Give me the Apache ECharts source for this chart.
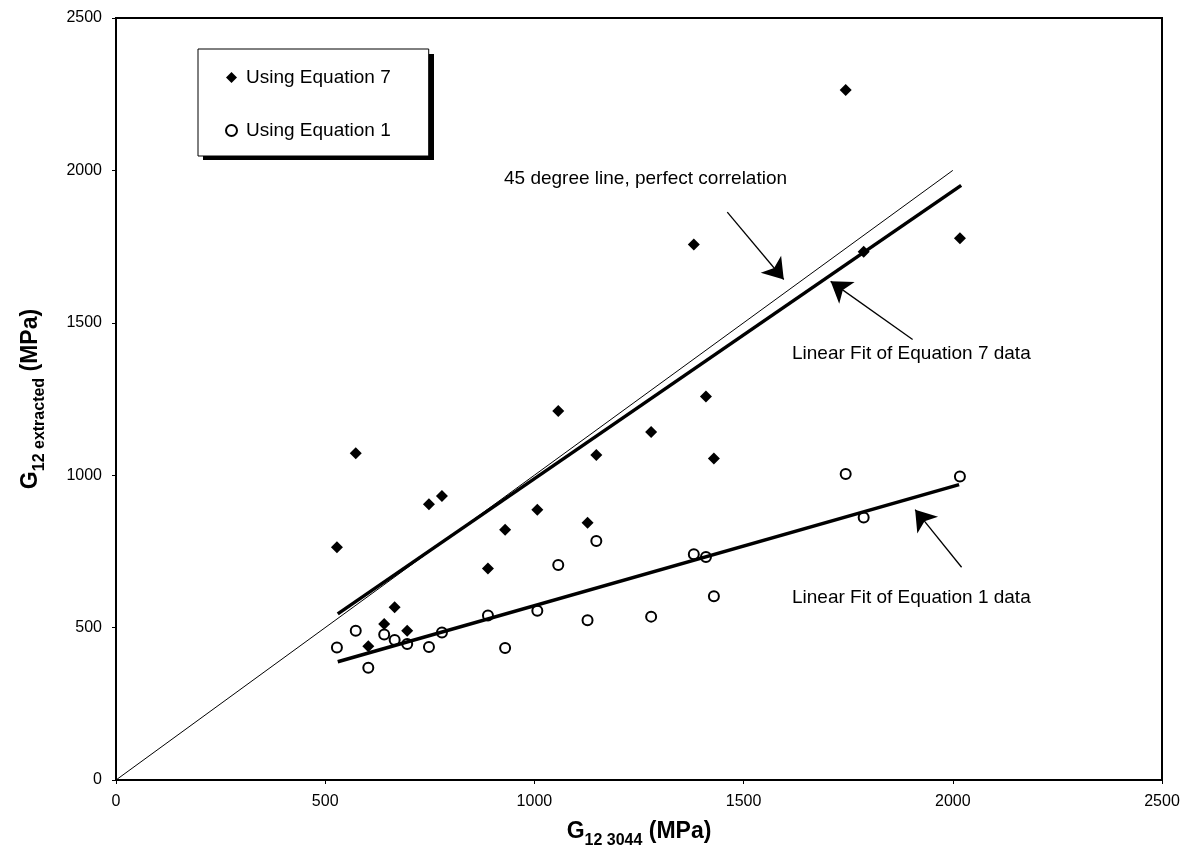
<!DOCTYPE html>
<html>
<head>
<meta charset="utf-8">
<script src="https://cdn.jsdelivr.net/npm/echarts@6/dist/echarts.min.js"></script>
<style>
  html, body { margin: 0; padding: 0; background: #fff; }
  #chart { width: 1187px; height: 860px; }
</style>
</head>
<body>
<div id="chart"></div>
<script>
// G12 3044 values (shared by both sets)
var g3044 = [528, 573, 603, 641, 666, 696, 748, 779, 889, 930, 1007, 1057, 1127, 1148, 1279, 1381, 1410, 1429, 1744, 1787, 2017];
var eq7 = [764, 1072, 439, 512, 567, 490, 905, 932, 694, 821, 887, 1211, 844, 1066, 1142, 1757, 1258, 1055, 2264, 1733, 1777];
var eq1 = [435, 490, 368, 477, 459, 446, 436, 484, 540, 433, 555, 705, 524, 784, 536, 741, 732, 603, 1004, 861, 996];

// lines
var perfectX = [0, 2000], perfectY = [0, 2000];
var fit7X = [530, 2020], fit7Y = [545, 1951];
var fit1X = [530, 2015], fit1Y = [388, 969];

var ticks = [0, 500, 1000, 1500, 2000, 2500];

// arrows [fromX, fromY, toX, toY]
var arrows = [
    [1461, 1863, 1596, 1642],
    [1904, 1445, 1708, 1636],
    [2021, 698, 1910, 887]
];

function pairs(xs, ys) {
    var out = [];
    for (var i = 0; i < xs.length; i++) out.push([xs[i], ys[i]]);
    return out;
}

var font = 'Liberation Sans, Arial, sans-serif';
var chart = echarts.init(document.getElementById('chart'));

var axisCommon = {
    type: 'value',
    min: ticks[0],
    max: ticks[ticks.length - 1],
    interval: 500,
    axisLine: { show: true, lineStyle: { color: '#000', width: 2 } },
    axisTick: { show: true, inside: false, length: 4, lineStyle: { color: '#000', width: 1 } },
    splitLine: { show: false },
    axisLabel: { color: '#000', fontSize: 16, fontFamily: font, formatter: function (v) { return String(v); } },
    nameLocation: 'middle',
    nameTextStyle: {
        rich: {
            g: { fontSize: 23, fontWeight: 'bold', fontFamily: font, color: '#000', padding: [0, 0, 6, 0], verticalAlign: 'bottom' },
            s: { fontSize: 16, fontWeight: 'bold', fontFamily: font, color: '#000', verticalAlign: 'bottom' }
        }
    }
};

var option = {
    animation: false,
    backgroundColor: '#fff',
    grid: { left: 116, right: 25, top: 18, bottom: 80, show: true, borderColor: '#000', borderWidth: 2 },
    xAxis: echarts.util.merge({
        name: '{g|G}{s|12 3044}{g| (MPa)}',
        nameGap: 40,
        axisLabel: { margin: 14 }
    }, axisCommon),
    yAxis: echarts.util.merge({
        name: '{g|G}{s|12 extracted}{g| (MPa)}',
        nameGap: 68,
        nameRotate: 90,
        axisLabel: { margin: 14 }
    }, axisCommon),
    legend: {
        orient: 'vertical',
        left: 198,
        top: 49,
        padding: [19, 38, 16, 27],
        itemGap: 34,
        itemWidth: 11,
        itemHeight: 11,
        backgroundColor: '#fff',
        borderColor: '#000',
        borderWidth: 1,
        textStyle: { color: '#000', fontSize: 19, fontFamily: font, padding: [0, 0, 0, 4] },
        data: ['Using Equation 7', 'Using Equation 1']
    },
    graphic: [
        // legend drop shadow
        { type: 'rect', z: 1, shape: { x: 203, y: 54, width: 231, height: 106 }, style: { fill: '#000' } },
        { type: 'text', left: 504, top: 169, style: { text: '45 degree line, perfect correlation', fill: '#000', font: '19px ' + font } },
        { type: 'text', left: 792, top: 344, style: { text: 'Linear Fit of Equation 7 data', fill: '#000', font: '19px ' + font } },
        { type: 'text', left: 792, top: 588, style: { text: 'Linear Fit of Equation 1 data', fill: '#000', font: '19px ' + font } }
    ],
    series: [
        {
            name: 'perfect',
            type: 'line',
            data: pairs(perfectX, perfectY),
            symbol: 'none',
            lineStyle: { color: '#000', width: 1 },
            silent: true,
            markLine: {
                silent: true,
                symbol: ['none', 'arrow'],
                symbolSize: 20,
                label: { show: false },
                lineStyle: { color: '#000', width: 1.3, type: 'solid' },
                data: arrows.map(function (a) {
                    return [{ coord: [a[0], a[1]] }, { coord: [a[2], a[3]] }];
                })
            }
        },
        {
            name: 'fit7',
            type: 'line',
            data: pairs(fit7X, fit7Y),
            symbol: 'none',
            lineStyle: { color: '#000', width: 3.5 },
            silent: true
        },
        {
            name: 'fit1',
            type: 'line',
            data: pairs(fit1X, fit1Y),
            symbol: 'none',
            lineStyle: { color: '#000', width: 3.5 },
            silent: true
        },
        {
            name: 'Using Equation 7',
            type: 'scatter',
            data: pairs(g3044, eq7),
            symbol: 'diamond',
            symbolSize: 12,
            itemStyle: { color: '#000', opacity: 1 }
        },
        {
            name: 'Using Equation 1',
            type: 'scatter',
            data: pairs(g3044, eq1),
            symbol: 'circle',
            symbolSize: 10,
            itemStyle: { color: '#fff', borderColor: '#000', borderWidth: 2, opacity: 1 }
        }
    ]
};

chart.setOption(option);
</script>
</body>
</html>
